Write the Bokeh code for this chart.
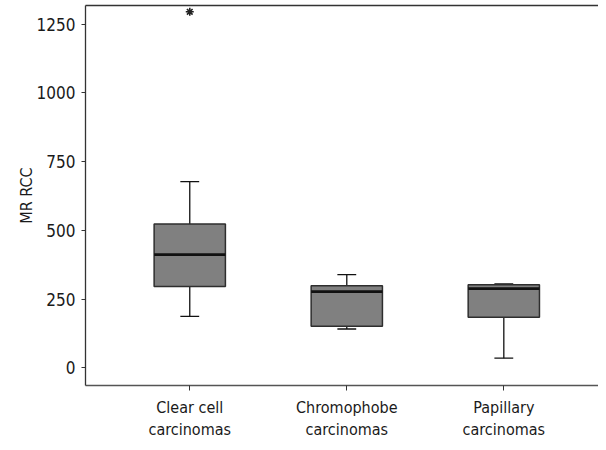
from bokeh.plotting import figure
from bokeh.models import FixedTicker, LinearAxis, Range1d, ColumnDataSource
from bokeh.embed import file_html
from bokeh.resources import INLINE

# ---- data ----
categories = ["Clear cell\ncarcinomas", "Chromophobe\ncarcinomas", "Papillary\ncarcinomas"]
positions = [1, 2, 3]
q1 = [296, 151, 184]
median = [412, 277, 288]
q3 = [523, 298, 302]
lower = [187, 141, 35]
upper = [677, 339, 305]
outlier_x = [1]
outlier_y = [1295]
y_ticks = [0, 250, 500, 750, 1000, 1250]

FONT = "DejaVu Sans Condensed, Lato"
BOX_W = 0.454
CAP_W = 0.12

p = figure(width=598, height=442, output_backend="svg", toolbar_location=None,
           x_range=Range1d(0.336, 3.603), y_range=Range1d(-64.5, 1318),
           min_border_left=85, min_border_right=0, min_border_top=5,
           min_border_bottom=50, tools="")
p.outline_line_color = None
p.xgrid.visible = False
p.ygrid.visible = False
p.background_fill_color = "white"
p.border_fill_color = "white"

src = ColumnDataSource(dict(x=positions, q1=q1, med=median, q3=q3, lo=lower, hi=upper,
                            xl=[x - BOX_W / 2 for x in positions],
                            xr=[x + BOX_W / 2 for x in positions],
                            cl=[x - CAP_W / 2 for x in positions],
                            cr=[x + CAP_W / 2 for x in positions]))

# whiskers
p.segment(x0="x", y0="q3", x1="x", y1="hi", source=src, line_color="#111111", line_width=1.3)
p.segment(x0="x", y0="q1", x1="x", y1="lo", source=src, line_color="#111111", line_width=1.3)
# caps
p.segment(x0="cl", y0="hi", x1="cr", y1="hi", source=src, line_color="#111111", line_width=1.3)
p.segment(x0="cl", y0="lo", x1="cr", y1="lo", source=src, line_color="#111111", line_width=1.3)
# boxes
p.vbar(x="x", width=BOX_W, bottom="q1", top="q3", source=src,
       fill_color="#808080", line_color="#2e2e2e", line_width=1.5)
# medians
p.segment(x0="xl", y0="med", x1="xr", y1="med", source=src, line_color="#111111", line_width=2.8)
# outlier
p.scatter(outlier_x, outlier_y, marker="asterisk", size=8, line_color="#222222", line_width=1.6)

# axes
xa = p.xaxis[0]
xa.ticker = FixedTicker(ticks=positions)
xa.major_label_overrides = {pos: lab for pos, lab in zip(positions, categories)}
xa.major_label_text_font = FONT
xa.major_label_text_font_size = "16px"
xa.major_label_text_color = "#1a1a1a"
xa.major_label_text_line_height = 1.2
xa.major_label_standoff = 7
xa.major_tick_out = 5
xa.major_tick_in = 0
xa.minor_tick_line_color = None
xa.axis_line_color = "#555555"
xa.axis_line_width = 1.6
xa.major_tick_line_color = "#333333"

ya = p.yaxis[0]
ya.ticker = FixedTicker(ticks=y_ticks)
ya.major_label_text_font = FONT
ya.major_label_text_font_size = "17px"
ya.major_label_text_color = "#1a1a1a"
ya.major_label_standoff = 6
ya.major_tick_out = 4
ya.major_tick_in = 0
ya.minor_tick_line_color = None
ya.axis_line_color = "#333333"
ya.axis_line_width = 1.3
ya.major_tick_line_color = "#333333"
ya.axis_label = "MR RCC"
ya.axis_label_text_font = FONT
ya.axis_label_text_font_size = "16px"
ya.axis_label_text_font_style = "normal"
ya.axis_label_text_color = "#1a1a1a"
ya.axis_label_standoff = -2

top_axis = LinearAxis(ticker=FixedTicker(ticks=[]), major_tick_out=0, major_tick_in=0,
                      major_label_standoff=0, minor_tick_line_color=None,
                      major_label_text_font_size="0px",
                      axis_line_color="#333333", axis_line_width=1.5)
p.add_layout(top_axis, "above")

open("out.html", "w").write(file_html(p, INLINE))
